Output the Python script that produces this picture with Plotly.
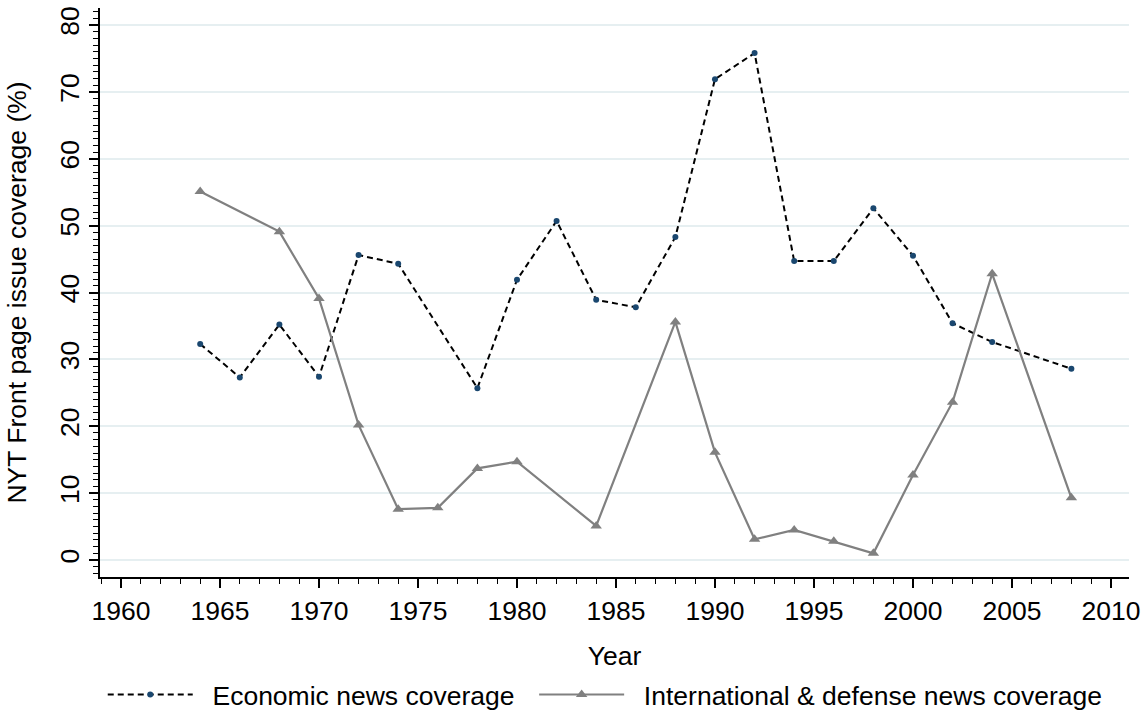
import plotly.graph_objects as go

# Front page coverage shares by election year
econ_years = [1964, 1966, 1968, 1970, 1972, 1974, 1978, 1980, 1982, 1984, 1986,
              1988, 1990, 1992, 1994, 1996, 1998, 2000, 2002, 2004, 2008]
econ_values = [32.3, 27.3, 35.2, 27.4, 45.6, 44.3, 25.7, 41.9, 50.7, 38.9, 37.8,
               48.3, 71.9, 75.8, 44.7, 44.7, 52.6, 45.5, 35.4, 32.6, 28.6]

intl_years = [1964, 1968, 1970, 1972, 1974, 1976, 1978, 1980, 1984, 1988, 1990,
              1992, 1994, 1996, 1998, 2000, 2002, 2004, 2008]
intl_values = [55.1, 49.1, 39.1, 20.2, 7.6, 7.8, 13.7, 14.7, 5.1, 35.6, 16.1,
               3.1, 4.5, 2.8, 1.0, 12.7, 23.6, 42.8, 9.3]

series_names = ["Economic news coverage", "International & defense news coverage"]

x_range = [1958.94, 2010.91]
y_range = [-2.54, 82.54]

FONT = "Liberation Sans, Arial, Helvetica, sans-serif"
PAD = "\u00a0\u00a0"  # breathing room between legend keys and labels

fig = go.Figure()

fig.add_trace(go.Scatter(
    x=econ_years, y=econ_values, mode="lines+markers",
    name=PAD + series_names[0] + PAD,
    line=dict(color="black", width=2, dash="6px,4px"),
    marker=dict(color="#1a476f", size=6, symbol="circle"),
))

fig.add_trace(go.Scatter(
    x=intl_years, y=intl_values, mode="lines+markers",
    name=PAD + series_names[1],
    line=dict(color="#808080", width=2.2),
    marker=dict(color="#808080", size=10, symbol="triangle-up"),
))

fig.update_layout(
    width=1146, height=710,
    margin=dict(l=100, r=17, t=8, b=133, autoexpand=False),
    paper_bgcolor="white", plot_bgcolor="white",
    font=dict(family=FONT, size=26.5, color="black"),
    showlegend=True,
    legend=dict(
        orientation="h", x=0.491, xanchor="center", y=-0.207, yanchor="middle",
        font=dict(size=26.5), itemwidth=85, traceorder="normal",
        bgcolor="rgba(0,0,0,0)",
    ),
)

fig.update_xaxes(
    range=x_range, tick0=1960, dtick=5,
    showline=True, linecolor="black", linewidth=1.5,
    ticks="outside", ticklen=9, tickwidth=1.5, tickcolor="black",
    minor=dict(dtick=1, tick0=1960, ticks="outside", ticklen=5, tickwidth=1.2,
               tickcolor="black", showgrid=False),
    showgrid=False, zeroline=False,
    title=dict(text="Year", standoff=22, font=dict(size=26.5)),
    automargin=False,
)

fig.update_yaxes(
    range=y_range, tick0=0, dtick=10,
    showline=True, linecolor="black", linewidth=1.5,
    ticks="outside", ticklen=9, tickwidth=1.5, tickcolor="black",
    tickangle=-90, ticklabelstandoff=0,
    minor=dict(dtick=1, tick0=0, ticks="outside", ticklen=5, tickwidth=1.2,
               tickcolor="black", showgrid=False),
    showgrid=True, gridcolor="#e6eff1", gridwidth=1.5, zeroline=False,
    title=dict(text="NYT Front page issue coverage (%)", standoff=20,
               font=dict(size=26.5)),
    automargin=False,
)

fig.write_html("out.html")
